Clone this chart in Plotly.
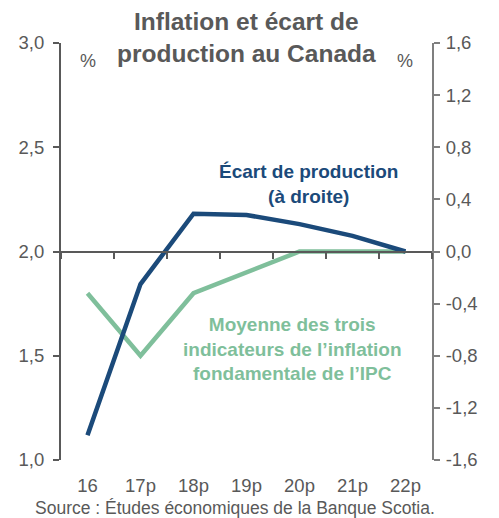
import plotly.graph_objects as go

# Data
years = ["16", "17p", "18p", "19p", "20p", "21p", "22p"]
core_inflation = [1.80, 1.50, 1.80, 1.90, 2.00, 2.00, 2.00]       # left axis, %
output_gap = [-1.41, -0.25, 0.29, 0.28, 0.21, 0.12, 0.00]         # right axis, %

left_ticks = [1.0, 1.5, 2.0, 2.5, 3.0]
left_labels = ["1,0", "1,5", "2,0", "2,5", "3,0"]
right_ticks = [-1.6, -1.2, -0.8, -0.4, 0.0, 0.4, 0.8, 1.2, 1.6]
right_labels = ["-1,6", "-1,2", "-0,8", "-0,4", "0,0", "0,4", "0,8", "1,2", "1,6"]

BLUE = "#1b4a7a"
GREEN = "#7fbf9b"
GREY = "#595959"
FONT = "Liberation Sans, Arial, sans-serif"

fig = go.Figure()

fig.add_trace(go.Scatter(x=years, y=core_inflation, mode="lines",
                         line=dict(color=GREEN, width=4.5), yaxis="y",
                         showlegend=False))
fig.add_trace(go.Scatter(x=years, y=output_gap, mode="lines",
                         line=dict(color=BLUE, width=4.5), yaxis="y2",
                         showlegend=False))
# invisible trace so the axis crossing at 2,0 gets its category ticks
fig.add_trace(go.Scatter(x=years, y=[None] * len(years), xaxis="x2",
                         showlegend=False, hoverinfo="skip"))

fig.update_layout(
    width=499, height=518,
    margin=dict(l=61, r=67, t=43, b=58),
    paper_bgcolor="white", plot_bgcolor="white",
    font=dict(family=FONT, size=18, color=GREY),
    xaxis=dict(type="category", categoryarray=years, range=[-0.5, 6.5],
               showline=False, ticks="", showgrid=False, zeroline=False,
               ticklabelstandoff=12,
               tickfont=dict(size=18.5, color=GREY)),
    xaxis2=dict(type="category", categoryarray=years, range=[-0.5, 6.5],
                overlaying="x", anchor="free", position=0.5,
                showline=True, linecolor=GREY, linewidth=2,
                ticks="outside", tickson="boundaries", ticklen=6,
                tickcolor=GREY, tickwidth=1.5,
                showticklabels=False, showgrid=False, zeroline=False),
    yaxis=dict(range=[1, 3], tickvals=left_ticks, ticktext=left_labels,
               showline=True, linecolor=GREY, linewidth=2,
               ticks="outside", ticklen=6, tickcolor=GREY, tickwidth=1.5,
               showgrid=False, zeroline=False, ticklabelstandoff=5,
               tickfont=dict(size=18.5, color=GREY)),
    yaxis2=dict(range=[-1.6, 1.6], tickvals=right_ticks, ticktext=right_labels,
                overlaying="y", side="right", anchor="x",
                showline=True, linecolor="#7f7f7f", linewidth=2,
                ticks="outside", ticklen=6, tickcolor="#7f7f7f", tickwidth=1.5,
                showgrid=False, zeroline=False, ticklabelstandoff=2,
                tickfont=dict(size=18.5, color=GREY)),
)

annotations = [
    dict(text="<b>Inflation et écart de<br>production au Canada</b>",
         x=0.5, y=37, xref="paper", yref="paper", showarrow=False),
    dict(text="%", x=88, y=61),
    dict(text="%", x=405, y=61),
    dict(text="<b>Écart de production<br>(à droite)</b>", x=308, y=184),
    dict(text="<b>Moyenne des trois<br>indicateurs de l’inflation<br>fondamentale de l’IPC</b>",
         x=292, y=349),
    dict(text="Source : Études économiques de la Banque Scotia.", x=235, y=508),
]
styles = [
    dict(size=24.5, color=GREY),
    dict(size=18, color=GREY),
    dict(size=18, color=GREY),
    dict(size=19, color=BLUE),
    dict(size=19, color=GREEN),
    dict(size=17.5, color=GREY),
]
W, H = 499, 518
for a, f in zip(annotations, styles):
    if "xref" in a:
        # title: convert pixel y to paper coords
        a["y"] = 1 + (43 - a["y"]) / (H - 43 - 58)
    else:
        a["x"] = (a["x"] - 61) / (W - 61 - 67)
        a["y"] = 1 - (a["y"] - 43) / (H - 43 - 58)
        a["xref"] = "paper"
        a["yref"] = "paper"
        a["showarrow"] = False
    a["font"] = dict(family=FONT, **f)
    a["xanchor"] = "center"
    a["yanchor"] = "middle"
    fig.add_annotation(**a)

fig.write_html("out.html", config={"displayModeBar": False},
               post_script="document.body.style.margin='0';")
